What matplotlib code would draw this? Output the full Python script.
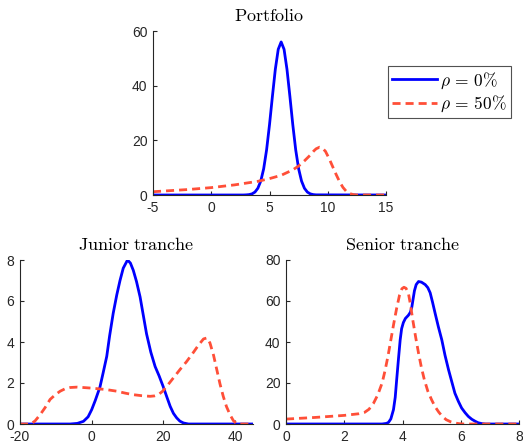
import numpy as np
import matplotlib
matplotlib.use('Agg')
import matplotlib.pyplot as plt

plt.rcParams['font.family'] = ['Liberation Sans', 'DejaVu Sans']
plt.rcParams['mathtext.fontset'] = 'cm'
plt.rcParams['axes.unicode_minus'] = False

#------------------------------------------------------------------------------
# Portfolio
port_x0 = [-5, 2.75, 3, 3.25, 3.5, 3.75, 4, 4.25, 4.5, 4.75, 5, 5.25, 5.5, 5.75, 6,
           6.25, 6.5, 6.75, 7, 7.25, 7.5, 7.75, 8, 8.25, 8.5, 8.75, 9, 15]
port_y0 = [0, 0, 0.05, 0.15, 0.42, 1.07, 2.46, 5.1, 9.6, 16.5, 25.7, 36.1, 46, 53.3, 56,
           53.3, 46, 36.1, 25.7, 16.5, 9.6, 5.1, 2.46, 1.07, 0.42, 0.15, 0.05, 0]
port_x50 = [-5, -2, 0, 2, 4, 5, 6, 7, 7.5, 8, 8.5, 8.8, 9.0, 9.3, 9.5, 9.8, 10.1, 10.4,
            10.7, 11, 11.3, 11.6, 11.9, 12.2, 12.5, 15]
port_y50 = [1.2, 2.0, 2.7, 3.7, 5.0, 6.0, 7.2, 9.2, 10.6, 12.5, 14.6, 16.1, 16.9, 17.5,
            17.3, 16.0, 13.5, 10.6, 7.7, 5.0, 2.8, 1.3, 0.5, 0.15, 0, 0]

# Junior tranche
jun_x0 = [-20, -6, -4, -2.3, -1, 0, 1, 2.3, 3.2, 4.2, 5, 6, 7, 7.9, 8.8, 10, 10.8, 11.6,
          12.5, 13.5, 14.4, 15.3, 16.5, 17.7, 18.8, 20, 21, 21.9, 22.8, 23.7, 24.6, 25.6,
          27, 45]
jun_y0 = [0, 0, 0.03, 0.13, 0.35, 0.7, 1.15, 1.8, 2.5, 3.3, 4.3, 5.4, 6.3, 7.0, 7.6, 8.0,
          7.85, 7.5, 6.95, 6.2, 5.3, 4.4, 3.5, 2.8, 2.35, 1.8, 1.3, 0.86, 0.52, 0.3, 0.14,
          0.05, 0, 0]
jun_x50 = [-20, -17, -15.8, -14.4, -13, -11.6, -10.2, -8.8, -7.4, -6, -4, 0, 4, 7, 9.5,
           11.6, 14, 16.3, 17.5, 18.6, 19.8, 20.9, 22.8, 24.6, 26.5, 28.4, 29.8, 31.2,
           32.2, 33, 34, 34.9, 35.8, 36.7, 37.6, 38.6, 39.5, 40.5, 45]
jun_y50 = [0, 0, 0.15, 0.45, 0.8, 1.2, 1.42, 1.6, 1.72, 1.78, 1.8, 1.75, 1.68, 1.6, 1.5,
           1.43, 1.38, 1.35, 1.37, 1.43, 1.6, 1.83, 2.25, 2.65, 3.05, 3.5, 3.85, 4.15, 4.2,
           3.95, 3.35, 2.65, 1.95, 1.35, 0.85, 0.45, 0.17, 0, 0]

# Senior tranche
sen_x0 = [0, 3.3, 3.45, 3.52, 3.6, 3.69, 3.75, 3.8, 3.86, 3.92, 3.97, 4.03, 4.1, 4.2,
          4.27, 4.32, 4.37, 4.41, 4.47, 4.55, 4.65, 4.78, 4.87, 4.95, 5.03, 5.12, 5.23,
          5.35, 5.46, 5.58, 5.7, 5.8, 5.92, 6.03, 6.15, 6.26, 6.38, 6.5, 6.6, 6.72, 6.85, 8]
sen_y0 = [0, 0, 0.3, 0.8, 2.5, 7, 13, 21.6, 31.5, 41, 46.5, 49.5, 51.5, 53, 54.5, 57,
          61.5, 65, 68, 69.5, 69.2, 68, 66.5, 64, 59.5, 54, 47.5, 41, 33.5, 26.5, 20.2,
          15, 11, 7.8, 5.5, 3.7, 2.3, 1.3, 0.6, 0.2, 0, 0]
sen_x50 = [0, 1, 2, 2.5, 2.7, 2.85, 3, 3.15, 3.3, 3.4, 3.5, 3.6, 3.7, 3.8, 3.9, 3.98,
           4.05, 4.12, 4.2, 4.27, 4.35, 4.45, 4.55, 4.65, 4.75, 4.87, 5, 5.12, 5.25, 5.37,
           5.5, 5.65, 5.8, 5.95, 6.1, 8]
sen_y50 = [2.4, 3.2, 4.2, 5.0, 5.7, 7.2, 10, 14.2, 20, 26, 33, 41, 49, 56.5, 63, 66,
           66.7, 66.2, 64, 58.5, 51, 42.5, 34.6, 27.5, 21.6, 16, 11.8, 8.4, 5.7, 3.7,
           2.1, 1.1, 0.5, 0.15, 0, 0]

labels = [r'$\rho\,=\,0\%$', r'$\rho\,=\,50\%$']
#------------------------------------------------------------------------------
W, H = 523, 446
fig = plt.figure(figsize=(W / 100, H / 100), dpi=100)
blue = '#0000FF'
red = '#FF4F38'
axc = '#262626'
dash = (0, (2.9, 1.8))


def rect(l, r, b, t):
    return [l / W, 1 - b / H, (r - l) / W, (b - t) / H]


def style(ax, xlim, ylim, xt, yt, title):
    ax.set_xlim(xlim)
    ax.set_ylim(ylim)
    ax.set_xticks(xt)
    ax.set_yticks(yt)
    for s in ['top', 'right']:
        ax.spines[s].set_visible(False)
    for s in ['left', 'bottom']:
        ax.spines[s].set_color(axc)
        ax.spines[s].set_linewidth(0.8)
    ax.tick_params(direction='in', length=3, width=0.8, colors=axc, labelsize=10, pad=4)
    ax.set_title(r'$\mathrm{' + title.replace(' ', r'\ ') + '}$', fontsize=13, pad=7)


def curves(ax, x0, y0, x50, y50):
    a, = ax.plot(x0, y0, '-', c=blue, lw=2, solid_joinstyle='round')
    b, = ax.plot(x50, y50, c=red, lw=2, linestyle=dash, dash_joinstyle='round')
    return a, b


ax = fig.add_axes(rect(153, 386, 195, 31))
l0, l1 = curves(ax, port_x0, port_y0, port_x50, port_y50)
style(ax, (-5, 15), (0, 60), [-5, 0, 5, 10, 15], [0, 20, 40, 60], 'Portfolio')
leg = fig.legend([l0, l1], labels, loc='upper left', bbox_to_anchor=(388 / W, 1 - 66 / H),
                 fontsize=12.5, frameon=True, fancybox=False, borderpad=0.25,
                 handlelength=2.6, handletextpad=0.15, borderaxespad=0, labelspacing=0.15)
leg.get_frame().set_edgecolor(axc)
leg.get_frame().set_linewidth(0.8)

ax = fig.add_axes(rect(20, 253, 424, 260))
curves(ax, jun_x0, jun_y0, jun_x50, jun_y50)
style(ax, (-20, 45), (0, 8), [-20, 0, 20, 40], [0, 2, 4, 6, 8], 'Junior tranche')

ax = fig.add_axes(rect(286, 519, 424, 260))
curves(ax, sen_x0, sen_y0, sen_x50, sen_y50)
style(ax, (0, 8), (0, 80), [0, 2, 4, 6, 8], [0, 20, 40, 60, 80], 'Senior tranche')

fig.savefig('out.png', dpi=100)
